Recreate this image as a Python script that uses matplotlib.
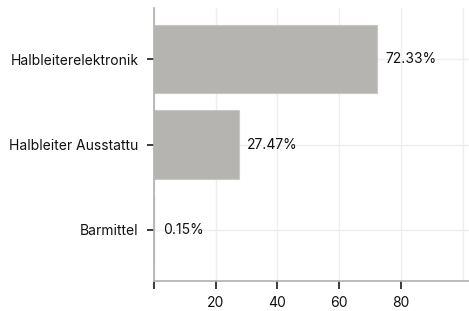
import matplotlib
matplotlib.use("Agg")
import matplotlib.pyplot as plt

categories = ["Halbleiterelektronik", "Halbleiter Ausstattu", "Barmittel"]
values = [72.33, 27.47, 0.15]
labels = ["72.33%", "27.47%", "0.15%"]
xticks = [0, 20, 40, 60, 80]
xticklabels = ["", "20", "40", "60", "80"]
xgrid_extra = [100]

plt.rcParams['font.family'] = ['Inter', 'DejaVu Sans']

fig = plt.figure(figsize=(4.69, 3.11), dpi=100)
ax = fig.add_axes([0.328, 0.0965, 0.672, 0.8775])

pos = list(range(len(categories)))
ax.barh(pos, values, height=0.8, color="#b5b4b0", edgecolor="#c8c7c4", linewidth=0.8, zorder=2)
for p, v, l in zip(pos, values, labels):
    ax.annotate(l, (v, p), xytext=(6, 0), textcoords="offset points", va="center", ha="left",
                fontsize=10, color="#111111")

ax.set_ylim(2.6, -0.6)
ax.set_xlim(0, 102)
ax.set_yticks(pos)
ax.set_yticklabels(categories, fontsize=10, color="#111111")
ax.set_xticks(xticks)
ax.set_xticklabels(xticklabels, fontsize=10, color="#111111")
ax.set_xticks(xgrid_extra, minor=True)
ax.grid(True, which="both", color="#eeeeee", linewidth=1, zorder=0)
ax.set_axisbelow(True)
for s in ["top", "right"]:
    ax.spines[s].set_visible(False)
for s in ["left", "bottom"]:
    ax.spines[s].set_color("#b0b0ab")
    ax.spines[s].set_linewidth(1.2)
ax.tick_params(axis="y", length=5, width=1.2, color="#1a1a1a", pad=6)
ax.tick_params(axis="x", length=6, width=1.2, color="#1a1a1a", pad=5)
ax.tick_params(axis="x", which="minor", length=0)

fig.savefig("out.png", dpi=100)
